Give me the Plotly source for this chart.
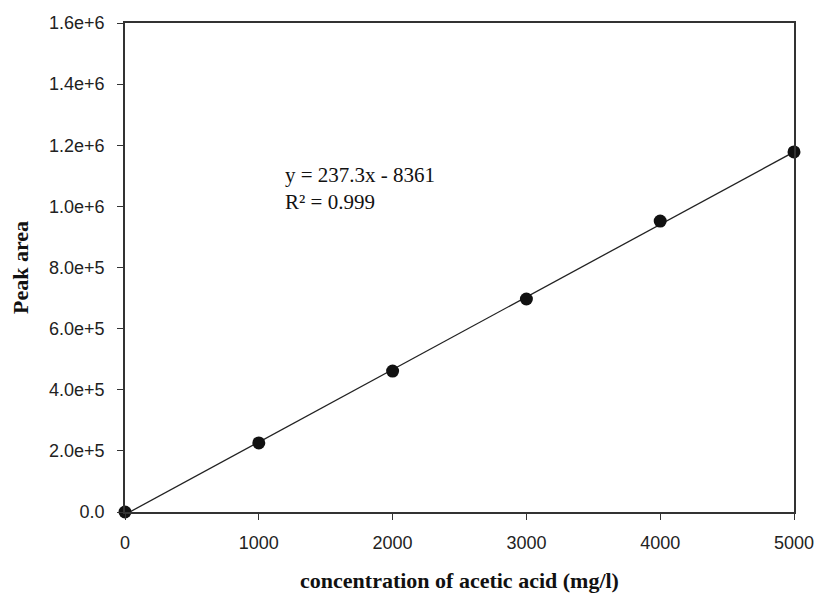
import plotly.graph_objects as go

conc = [0, 1000, 2000, 3000, 4000, 5000]
peak_area = [0, 226000, 461000, 697000, 952000, 1178000]
slope = 237.3
intercept = -8361
r2 = 0.999

x_ticks = [0, 1000, 2000, 3000, 4000, 5000]
y_ticks = [0, 2e5, 4e5, 6e5, 8e5, 1e6, 1.2e6, 1.4e6, 1.6e6]
y_ticktext = ["0.0", "2.0e+5", "4.0e+5", "6.0e+5", "8.0e+5", "1.0e+6", "1.2e+6", "1.4e+6", "1.6e+6"]

fit_x = [conc[0], conc[-1]]
fit_y = [slope * v + intercept for v in fit_x]

fig = go.Figure()
fig.add_trace(go.Scatter(x=fit_x, y=fit_y, mode="lines",
                         line=dict(color="#222222", width=1.3), showlegend=False, cliponaxis=True))
fig.add_trace(go.Scatter(x=conc, y=peak_area, mode="markers",
                         marker=dict(color="#111111", size=13), showlegend=False, cliponaxis=False))

fig.add_annotation(x=1181, y=1.06e6, xref="x", yref="y", xanchor="left", yanchor="middle",
                   text=f"y = {slope}x - {abs(intercept)}<br>R² = {r2}", showarrow=False, align="left",
                   font=dict(family="Liberation Serif", size=21, color="#111111"))

axis_common = dict(showline=True, linecolor="#333333", linewidth=1.5, mirror=True,
                   ticks="outside", ticklen=6, tickcolor="#333333", tickwidth=1.3,
                   showgrid=False, zeroline=False, automargin=False,
                   tickfont=dict(family="Liberation Sans", size=18, color="#222222"))

fig.update_xaxes(range=[0, 5000], tickvals=x_ticks, ticklabelstandoff=8, **axis_common,
                 title=dict(text="<b>concentration of acetic acid (mg/l)</b>", standoff=20,
                            font=dict(family="Liberation Serif", size=22, color="#111111")))
fig.update_yaxes(range=[0, 1.6e6], tickvals=y_ticks, ticktext=y_ticktext, ticklabelstandoff=9, **axis_common,
                 title=dict(text="<b>Peak area</b>", standoff=14,
                            font=dict(family="Liberation Serif", size=22, color="#111111")))

fig.update_layout(width=819, height=594, margin=dict(l=125, r=25, t=23, b=82),
                  plot_bgcolor="white", paper_bgcolor="white")

fig.write_html("out.html")
